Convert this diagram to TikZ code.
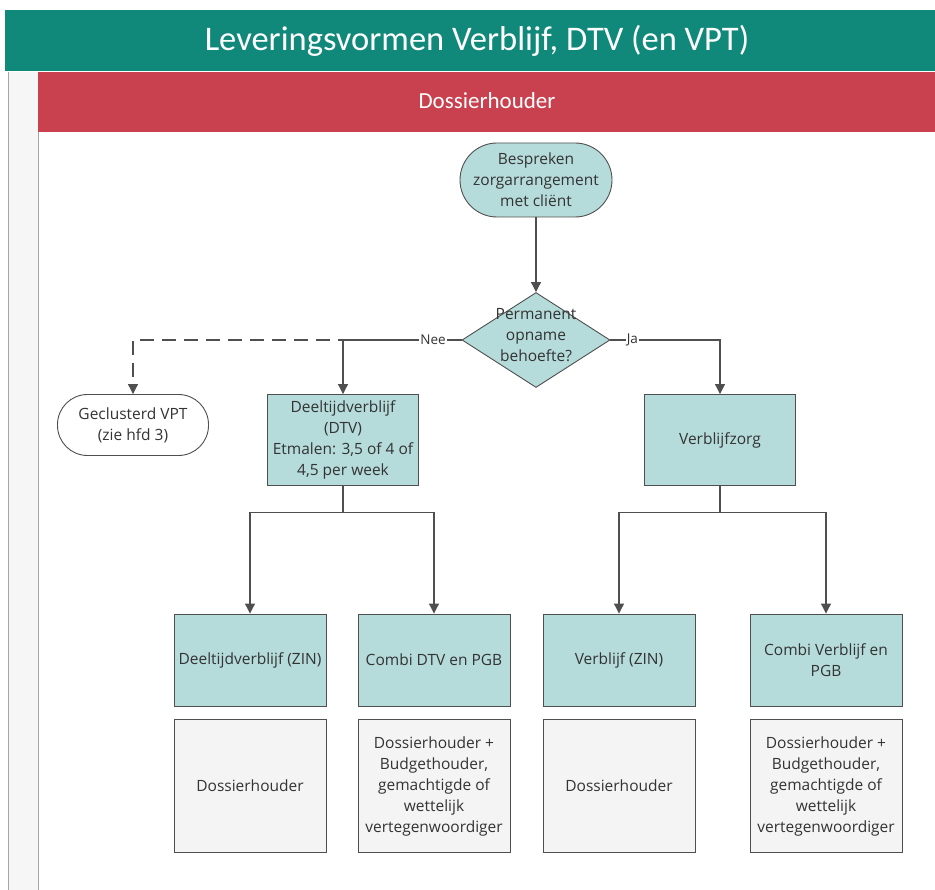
\documentclass[tikz,border=0pt]{standalone}
\usepackage{fontspec}
\setmainfont{Open Sans}
\newfontfamily\kopfont{Carlito}
\usetikzlibrary{arrows.meta,shapes.geometric}
\definecolor{titelgroen}{HTML}{10897A}
\definecolor{laanrood}{HTML}{C9404F}
\definecolor{stapvulling}{HTML}{B5DCDA}
\definecolor{rolvulling}{HTML}{F4F4F4}
\definecolor{lijngrijs}{HTML}{4F4F4F}
\definecolor{tekstgrijs}{HTML}{333333}
\begin{document}
\begin{tikzpicture}[x=1pt,y=-1pt,
		every node/.style={font=\fontsize{15.5}{21}\selectfont,text=tekstgrijs,align=center,inner sep=2pt},
		stap/.style={rectangle,draw=lijngrijs,line width=0.9pt,fill=stapvulling,minimum width=151pt,minimum height=91pt},
		rol/.style={rectangle,draw=lijngrijs,line width=0.9pt,fill=rolvulling,minimum width=152pt,minimum height=133pt},
		eindpunt/.style={rectangle,rounded corners=30pt,draw=lijngrijs,line width=0.9pt,minimum width=151pt,minimum height=61pt},
		keuze/.style={diamond,draw=lijngrijs,line width=0.9pt,fill=stapvulling,minimum width=148pt,minimum height=95pt,inner sep=0pt},
		pijl/.style={draw=lijngrijs,line width=1.1pt,-{Triangle[width=10pt,length=10pt]}},
		lijn/.style={draw=lijngrijs,line width=1.1pt},
		tak/.style={fill=white,inner sep=1pt,font=\fontsize{13.5}{15}\selectfont}]
		\useasboundingbox (0,0) rectangle (935,890);
		% kop en laan
		\fill[titelgroen] (5,10) rectangle (935,71);
		\node[font=\kopfont\fontsize{34.5}{38}\selectfont,text=white] (titel) at (477,41) {Leveringsvormen Verblijf, DTV (en VPT)};
		\fill[gray!7] (8,72) rectangle (38,890);
		\draw[gray!70,line width=1pt] (8,72) -- (8,890);
		\draw[gray!70,line width=1pt] (38,132) -- (38,890);
		\fill[laanrood] (38,72) rectangle (935,132);
		\node[font=\kopfont\fontsize{23}{26}\selectfont,text=white] (laan) at (487,101) {Dossierhouder};
		% stappen
		\node[eindpunt,rounded corners=37pt,fill=stapvulling,minimum width=152pt,minimum height=74pt] (start) at (536,180) {Bespreken\\zorgarrangement\\met cliënt};
		\node[keuze] (opname) at (536,340) {\smash{\makebox[0pt]{\begin{tabular}{@{}c@{}}Permanent\\opname\\behoefte?\end{tabular}}}};
		\node[eindpunt,fill=white] (vpt) at (133,425) {Geclusterd VPT\\(zie hfd 3)};
		\node[stap] (dtv) at (343,440) {Deeltijdverblijf\\(DTV)\\Etmalen: 3,5 of 4 of\\4,5 per week};
		\node[stap] (verblijf) at (720,440) {Verblijfzorg};
		\node[stap,minimum width=152pt,minimum height=92pt] (dtvzin) at (250,660) {Deeltijdverblijf (ZIN)};
		\node[stap,minimum width=152pt,minimum height=92pt] (dtvpgb) at (434,660) {Combi DTV en PGB};
		\node[stap,minimum width=152pt,minimum height=92pt] (vbzin) at (619,660) {Verblijf (ZIN)};
		\node[stap,minimum width=152pt,minimum height=92pt] (vbpgb) at (826,660) {Combi Verblijf en\\PGB};
		\node[rol] (rol1) at (250,786) {Dossierhouder};
		\node[rol] (rol2) at (434,786) {Dossierhouder +\\Budgethouder,\\gemachtigde of\\wettelijk\\vertegenwoordiger};
		\node[rol] (rol3) at (619,786) {Dossierhouder};
		\node[rol] (rol4) at (826,786) {Dossierhouder +\\Budgethouder,\\gemachtigde of\\wettelijk\\vertegenwoordiger};
		% verbindingen
		\draw[pijl] (start) -- (opname);
		\draw[pijl,dashed,dash pattern=on 14pt off 8pt] (opname.west) -| (vpt.north);
		\draw[pijl] (opname.west) -| (dtv.north) node[tak,pos=0.12] {Nee};
		\draw[pijl] (opname.east) -| (verblijf.north) node[tak,pos=0.1] {Ja};
		\draw[lijn] (dtv.south) -- ++(0,27) coordinate (dtvsplit);
		\draw[pijl] (dtvsplit) -| (dtvzin.north);
		\draw[pijl] (dtvsplit) -| (dtvpgb.north);
		\draw[lijn] (verblijf.south) -- ++(0,27) coordinate (vbsplit);
		\draw[pijl] (vbsplit) -| (vbzin.north);
		\draw[pijl] (vbsplit) -| (vbpgb.north);
	\end{tikzpicture}
\end{document}
